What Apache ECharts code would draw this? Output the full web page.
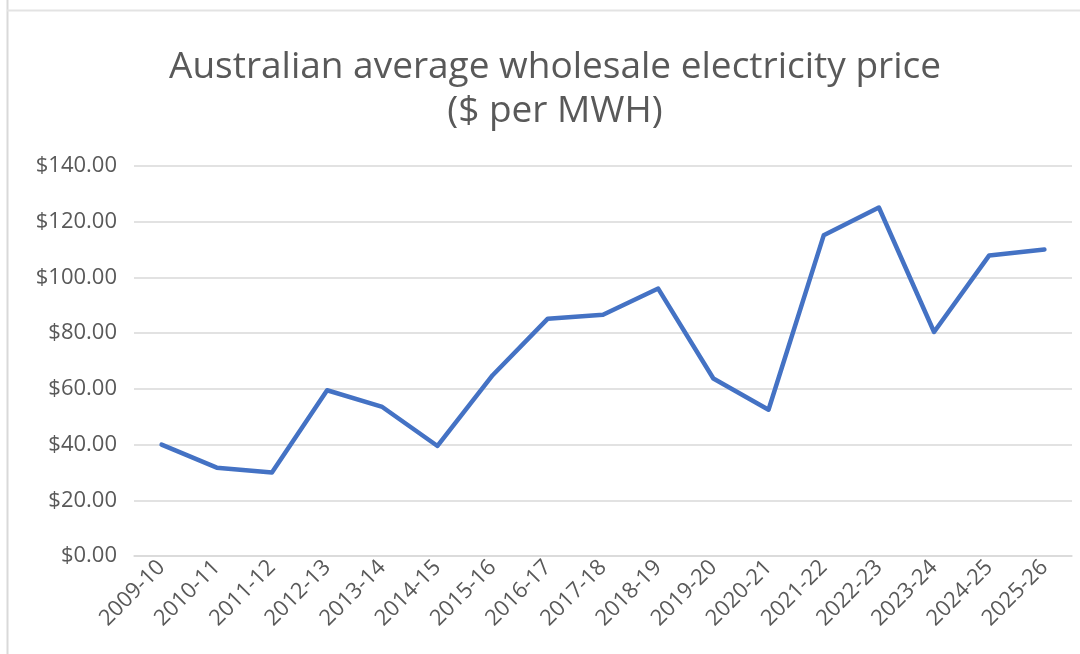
<!DOCTYPE html>
<html>
<head>
<meta charset="utf-8">
<script src="https://cdn.jsdelivr.net/npm/echarts@6/dist/echarts.min.js"></script>
<style>
html,body{margin:0;padding:0;background:#fff;}
#chart{width:1080px;height:654px;}
</style>
</head>
<body>
<div id="chart"></div>
<script>
const categories = ['2009-10','2010-11','2011-12','2012-13','2013-14','2014-15','2015-16','2016-17','2017-18','2018-19','2019-20','2020-21','2021-22','2022-23','2023-24','2024-25','2025-26'];
const prices = [40, 31.7, 30, 59.5, 53.5, 39.5, 64.9, 85.2, 86.6, 96, 63.7, 52.5, 115.1, 125.1, 80.4, 107.9, 110];
const titleLines = ['Australian average wholesale electricity price', '($ per MWH)'];

const chart = echarts.init(document.getElementById('chart'), null, {renderer: 'canvas'});
chart.setOption({
  backgroundColor: '#ffffff',
  animation: false,
  title: {
    text: titleLines.join('\n'),
    left: 550,
    textAlign: 'center',
    top: 40,
    textStyle: {
      fontFamily: 'Open Sans',
      fontWeight: 'normal',
      fontSize: 37,
      color: '#595959',
      lineHeight: 44
    }
  },
  graphic: [
    {type: 'line', shape: {x1: 7.5, y1: 0, x2: 7.5, y2: 654}, style: {stroke: '#d9d9d9', lineWidth: 2}, silent: true},
    {type: 'line', shape: {x1: 7, y1: 10.5, x2: 1080, y2: 10.5}, style: {stroke: '#e3e3e3', lineWidth: 2}, silent: true}
  ],
  grid: {left: 134, right: 8, top: 166, bottom: 98, containLabel: false},
  xAxis: {
    type: 'category',
    data: categories,
    boundaryGap: true,
    axisLine: {show: true, lineStyle: {color: '#d9d9d9', width: 1.5}},
    axisTick: {show: false},
    axisLabel: {
      rotate: 45,
      interval: 0,
      margin: 8,
      color: '#595959',
      fontFamily: 'Open Sans',
      fontSize: 22
    }
  },
  yAxis: {
    type: 'value',
    min: 0,
    max: 140,
    interval: 20,
    axisLine: {show: false},
    axisTick: {show: false},
    splitLine: {lineStyle: {color: '#d9d9d9', width: 1.5}},
    axisLabel: {
      margin: 17,
      color: '#595959',
      fontFamily: 'Open Sans',
      fontSize: 22,
      formatter: v => '$' + v.toFixed(2)
    }
  },
  series: [{
    type: 'line',
    data: prices,
    symbol: 'none',
    lineStyle: {color: '#4472C4', width: 4.5, join: 'round', cap: 'round'},
    itemStyle: {color: '#4472C4'}
  }]
});
</script>
</body>
</html>
